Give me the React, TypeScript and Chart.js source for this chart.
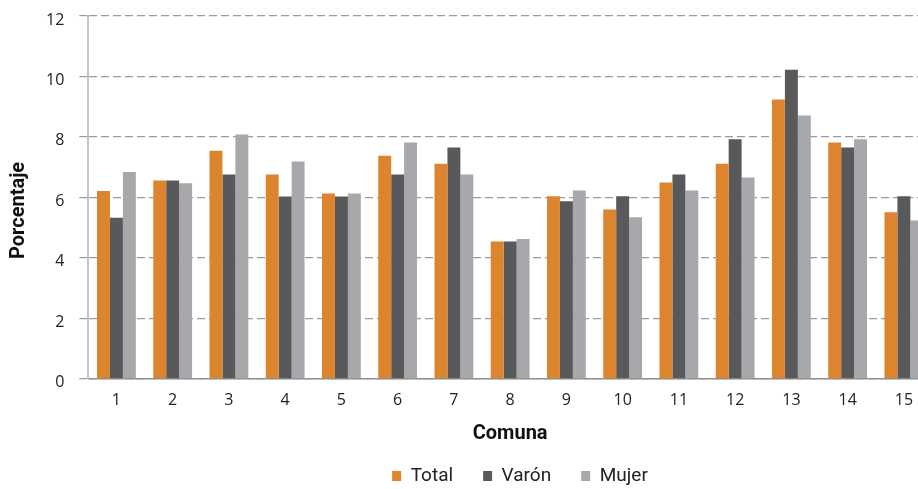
import React, { useEffect, useRef } from "react";
import { Chart, registerables } from "chart.js";

Chart.register(...registerables);

const comunas = ["1", "2", "3", "4", "5", "6", "7", "8", "9", "10", "11", "12", "13", "14", "15"];
const total = [6.21, 6.56, 7.54, 6.76, 6.13, 7.38, 7.11, 4.54, 6.04, 5.6, 6.49, 7.11, 9.24, 7.82, 5.51];
const varon = [5.33, 6.56, 6.76, 6.03, 6.03, 6.76, 7.65, 4.54, 5.87, 6.04, 6.76, 7.92, 10.22, 7.65, 6.04];
const mujer = [6.84, 6.47, 8.08, 7.19, 6.13, 7.82, 6.76, 4.62, 6.23, 5.34, 6.23, 6.66, 8.71, 7.92, 5.24];
const yTicks = [0, 2, 4, 6, 8, 10, 12];

const TICK_FONT = "'Open Sans', 'Noto Sans', sans-serif";
const TITLE_FONT = "Roboto, 'Noto Sans', sans-serif";

const LEG_H = 39;
const LEG_DX = 52;
const LEG_FONT = 19;
const LEG_PAD = 30;
const LEG_CENTER_Y = 476;
const YTITLE_DY = 13;

const layoutTweak = {
  id: "layoutTweak",
  beforeLayout(chart: any) {
    const lg = chart.legend;
    if (lg && !lg.__patched) {
      const orig = lg.fit;
      lg.fit = function () {
        orig.call(this);
        this.height = LEG_H;
      };
      lg.__patched = true;
    }
    const ys = chart.scales && chart.scales.y;
    if (ys && !ys.__patched) {
      const origT = ys.drawTitle;
      ys.drawTitle = function (...args: any[]) {
        const ctx = this.ctx;
        ctx.save();
        ctx.translate(0, YTITLE_DY);
        origT.apply(this, args);
        ctx.restore();
      };
      ys.__patched = true;
    }
  },
  afterLayout(chart: any) {
    const lg = chart.legend;
    if (lg) {
      lg.left += LEG_DX;
      lg.right += LEG_DX;
      lg.top = LEG_CENTER_Y - LEG_PAD - LEG_FONT / 2;
      lg.bottom = lg.top + LEG_PAD * 2 + LEG_FONT + 4;
      lg.height = lg.bottom - lg.top;
    }
  },
};

export default function App() {
  const ref = useRef<HTMLCanvasElement | null>(null);
  useEffect(() => {
    if (!ref.current) return;
    const chart = new Chart(ref.current, {
      type: "bar",
      data: {
        labels: comunas,
        datasets: [
          { label: "Total", data: total, backgroundColor: "#DD842E" },
          { label: "Varón", data: varon, backgroundColor: "#58595B" },
          { label: "Mujer", data: mujer, backgroundColor: "#A7A8AB" },
        ],
      },
      options: {
        responsive: false,
        animation: false,
        devicePixelRatio: 1,
        layout: { padding: { left: 4, right: 0, top: 16, bottom: 0 } },
        datasets: { bar: { categoryPercentage: 0.69, barPercentage: 1.0 } },
        plugins: {
          legend: {
            position: "bottom",
            labels: {
              boxWidth: 9,
              boxHeight: 10,
              padding: LEG_PAD,
              color: "#222",
              font: { family: TITLE_FONT, size: LEG_FONT },
            },
          },
          tooltip: { enabled: false },
        },
        scales: {
          x: {
            grid: { display: false, drawTicks: false },
            border: { display: true, color: "#909090", width: 1.5 },
            ticks: { color: "#222", padding: 12, font: { family: TICK_FONT, size: 16 } },
            title: {
              display: true,
              text: "Comuna",
              color: "#111",
              font: { family: TITLE_FONT, size: 20, weight: "bold" },
              padding: { top: 0, bottom: 4 },
            },
          },
          y: {
            min: 0,
            max: 12,
            afterBuildTicks: (axis: any) => {
              axis.ticks = yTicks.map((v) => ({ value: v }));
            },
            afterFit: (axis: any) => {
              axis.paddingTop = 0;
            },
            grid: { color: "#9A9A9A", lineWidth: 1.2, tickLength: 9, drawTicks: true },
            border: { display: true, color: "#C4C4C4", width: 2, dash: [8, 4] },
            ticks: { color: "#222", padding: 15, labelOffset: 4, font: { family: TICK_FONT, size: 16 } },
            title: {
              display: true,
              text: "Porcentaje",
              color: "#111",
              font: { family: TITLE_FONT, size: 20, weight: "bold" },
              padding: { top: 3, bottom: 0 },
            },
          },
        },
      },
      plugins: [layoutTweak],
    });
    return () => chart.destroy();
  }, []);
  return (
    <div style={{ position: "fixed", left: 0, top: 0, width: 918, height: 489, overflow: "hidden", background: "#fff" }}>
      <canvas ref={ref} width={932} height={489} style={{ display: "block" }} />
    </div>
  );
}
